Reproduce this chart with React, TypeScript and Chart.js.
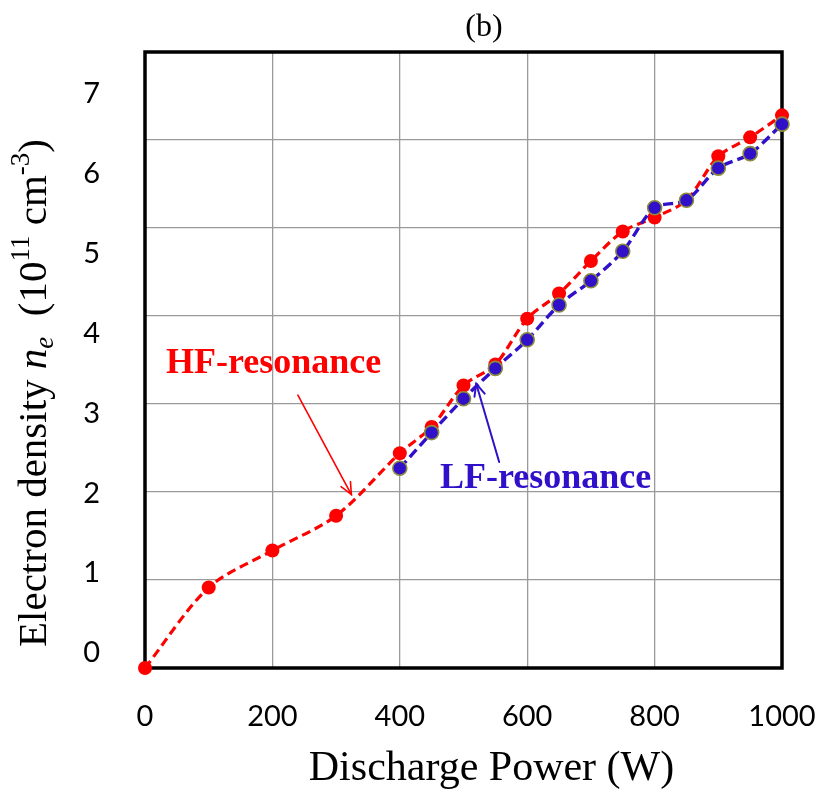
import React, { useEffect, useRef } from 'react';
import { Chart, registerables } from 'chart.js';

Chart.register(...registerables);

// ---- data ----
const powerHF = [0, 100, 200, 300, 400, 450, 500, 550, 600, 650, 700, 750, 800, 850, 900, 950, 1000];
const densityHF = [0, 0.915, 1.335, 1.73, 2.44, 2.74, 3.21, 3.45, 3.97, 4.255, 4.625, 4.96, 5.12, 5.315, 5.815, 6.03, 6.28];
const powerLF = [400, 450, 500, 550, 600, 650, 700, 750, 800, 850, 900, 950, 1000];
const densityLF = [2.27, 2.675, 3.06, 3.405, 3.73, 4.125, 4.4, 4.735, 5.23, 5.315, 5.68, 5.845, 6.18];
const xTickValues = [0, 200, 400, 600, 800, 1000];
const yTickValues = [0, 1, 2, 3, 4, 5, 6, 7];

const chartTitle = '(b)';
const xTitle = 'Discharge Power (W)';
const hfText = 'HF-resonance';
const lfText = 'LF-resonance';

const SERIF = '"Liberation Serif", "Times New Roman", serif';
const SANS = 'Lato, "Open Sans", sans-serif';
const RED = '#FF0000';
const BLUE = '#3010C8';
const OLIVE = '#8C8C3C';

// annotation anchors in data units
const hfLabelAt = { x: 33, y: 3.35 };
const hfArrow = { x1: 240, y1: 3.1, x2: 324, y2: 1.97 };
const lfLabelAt = { x: 463, y: 2.04 };
const lfArrow = { x1: 556, y1: 2.34, x2: 520, y2: 3.23 };

type Part = { text: string; italic?: boolean; shift?: 'sub' | 'sup' };
const yTitleParts: Part[] = [
  { text: 'Electron density ' },
  { text: 'n', italic: true },
  { text: 'e', italic: true, shift: 'sub' },
  { text: '  (10' },
  { text: '11', shift: 'sup' },
  { text: ' cm' },
  { text: '-3', shift: 'sup' },
  { text: ')' },
];

function drawArrow(ctx: CanvasRenderingContext2D, x1: number, y1: number, x2: number, y2: number, color: string, width: number) {
  ctx.save();
  ctx.strokeStyle = color;
  ctx.lineWidth = width;
  ctx.lineCap = 'round';
  ctx.beginPath();
  ctx.moveTo(x1, y1);
  ctx.lineTo(x2, y2);
  ctx.stroke();
  const ang = Math.atan2(y2 - y1, x2 - x1);
  const L = 13;
  const a = 0.42;
  ctx.beginPath();
  ctx.moveTo(x2 - L * Math.cos(ang - a), y2 - L * Math.sin(ang - a));
  ctx.lineTo(x2, y2);
  ctx.lineTo(x2 - L * Math.cos(ang + a), y2 - L * Math.sin(ang + a));
  ctx.stroke();
  ctx.restore();
}

const decorPlugin = {
  id: 'decor',
  beforeDatasetsDraw(chart: any) {
    const { ctx, chartArea } = chart;
    ctx.save();
    ctx.strokeStyle = '#000';
    ctx.lineWidth = 3.5;
    ctx.strokeRect(chartArea.left, chartArea.top, chartArea.right - chartArea.left, chartArea.bottom - chartArea.top);
    ctx.restore();
  },
  afterDraw(chart: any) {
    const { ctx, chartArea } = chart;
    const xs = chart.scales.x;
    const ys = chart.scales.y;
    ctx.save();
    ctx.fillStyle = '#000';
    // title
    ctx.font = `32px ${SERIF}`;
    ctx.textAlign = 'center';
    ctx.textBaseline = 'alphabetic';
    ctx.fillText(chartTitle, 484, 36);
    // x title
    ctx.font = `42px ${SERIF}`;
    ctx.fillText(xTitle, (chartArea.left + chartArea.right) / 2 + 28, 780);
    // y title (rotated, rich)
    ctx.save();
    ctx.translate(46, chartArea.bottom - 21);
    ctx.rotate(-Math.PI / 2);
    ctx.textAlign = 'left';
    let cx = 0;
    for (const p of yTitleParts) {
      const size = p.shift ? 27 : 41;
      ctx.font = `${p.italic ? 'italic ' : ''}${size}px ${SERIF}`;
      const dy = p.shift === 'sub' ? 7 : p.shift === 'sup' ? -17 : 0;
      ctx.fillText(p.text, cx, dy);
      cx += ctx.measureText(p.text).width;
    }
    ctx.restore();
    // annotations
    ctx.textAlign = 'left';
    ctx.font = `bold 36px ${SERIF}`;
    ctx.fillStyle = RED;
    ctx.fillText(hfText, xs.getPixelForValue(hfLabelAt.x), ys.getPixelForValue(hfLabelAt.y));
    drawArrow(ctx, xs.getPixelForValue(hfArrow.x1), ys.getPixelForValue(hfArrow.y1), xs.getPixelForValue(hfArrow.x2), ys.getPixelForValue(hfArrow.y2), RED, 1.6);
    ctx.fillStyle = BLUE;
    ctx.fillText(lfText, xs.getPixelForValue(lfLabelAt.x), ys.getPixelForValue(lfLabelAt.y));
    drawArrow(ctx, xs.getPixelForValue(lfArrow.x1), ys.getPixelForValue(lfArrow.y1), xs.getPixelForValue(lfArrow.x2), ys.getPixelForValue(lfArrow.y2), BLUE, 2);
    ctx.restore();
  },
};

const noPad = (s: any) => {
  s.paddingTop = 0;
  s.paddingBottom = 0;
  s.paddingLeft = 0;
  s.paddingRight = 0;
};

export default function App() {
  const ref = useRef<HTMLCanvasElement | null>(null);
  useEffect(() => {
    if (!ref.current) return;
    const chart = new Chart(ref.current, {
      type: 'line',
      data: {
        datasets: [
          {
            label: 'HF-resonance',
            data: powerHF.map((p, i) => ({ x: p, y: densityHF[i] })),
            borderColor: RED,
            backgroundColor: RED,
            pointBackgroundColor: RED,
            pointBorderColor: RED,
            pointBorderWidth: 0,
            pointRadius: 7,
            borderWidth: 3.2,
            borderDash: [9, 5],
            tension: 0.3,
            clip: false as any,
            order: 2,
          },
          {
            label: 'LF-resonance',
            data: powerLF.map((p, i) => ({ x: p, y: densityLF[i] })),
            borderColor: BLUE,
            backgroundColor: BLUE,
            pointBackgroundColor: BLUE,
            pointBorderColor: OLIVE,
            pointBorderWidth: 1.6,
            pointRadius: 7,
            borderWidth: 3.4,
            borderDash: [10, 5],
            tension: 0.3,
            clip: false as any,
            order: 1,
          },
        ],
      },
      options: {
        responsive: false,
        animation: false,
        layout: { padding: { left: 0, top: 52, right: 43, bottom: 0 } },
        plugins: {
          legend: { display: false },
          tooltip: { enabled: false },
          title: { display: false },
        },
        scales: {
          x: {
            type: 'linear',
            min: 0,
            max: 1000,
            afterBuildTicks: (s: any) => { s.ticks = xTickValues.map((v) => ({ value: v })); },
            afterFit: (s: any) => { s.height = 124; noPad(s); },
            grid: { color: '#9a9a9a', lineWidth: 1.3, drawTicks: false },
            border: { display: false },
            ticks: {
              font: { family: SANS, size: 29 },
              color: '#000',
              padding: 31,
              maxRotation: 0,
              autoSkip: false,
              callback: (v: any) => String(v),
            },
          },
          y: {
            type: 'linear',
            position: 'left',
            min: 0,
            max: 7,
            afterBuildTicks: (s: any) => { s.ticks = yTickValues.map((v) => ({ value: v })); },
            afterFit: (s: any) => { s.width = 0; noPad(s); },
            grid: { color: '#9a9a9a', lineWidth: 1.3, drawTicks: false },
            border: { display: false },
            ticks: { display: false },
          },
          yLab: {
            type: 'linear',
            position: 'left',
            min: -0.188,
            max: 7.526,
            afterBuildTicks: (s: any) => { s.ticks = yTickValues.map((v) => ({ value: v })); },
            afterFit: (s: any) => { s.width = 145; noPad(s); },
            grid: { display: false, drawTicks: false },
            border: { display: false },
            ticks: {
              font: { family: SANS, size: 29 },
              color: '#000',
              padding: 45,
              autoSkip: false,
              callback: (v: any) => String(v),
            },
          },
        },
      } as any,
      plugins: [decorPlugin],
    });
    return () => chart.destroy();
  }, []);
  return (
    <div style={{ position: 'absolute', left: 0, top: 0, width: 825, height: 792, background: '#fff' }}>
      <canvas ref={ref} width={825} height={792} style={{ display: 'block' }} />
    </div>
  );
}
